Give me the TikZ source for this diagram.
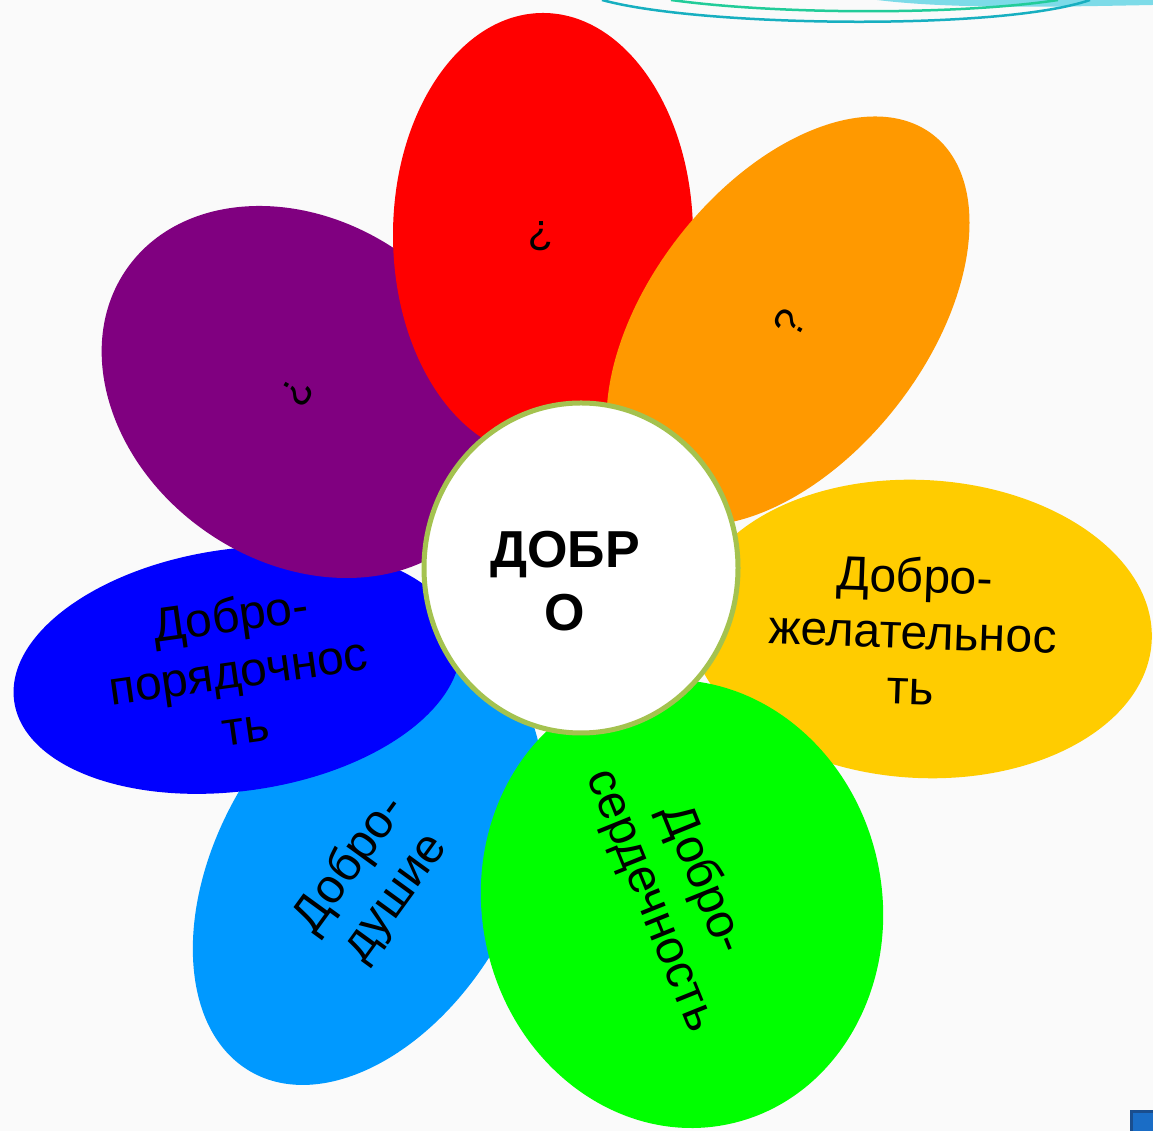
\documentclass[tikz,border=0pt]{standalone}
\usepackage{fontspec}
\setmainfont{Liberation Sans}
\definecolor{bg}{HTML}{FAFAFA}
\definecolor{pred}{HTML}{FF0000}
\definecolor{porange}{HTML}{FF9900}
\definecolor{pyellow}{HTML}{FFCC00}
\definecolor{pgreen}{HTML}{00FF00}
\definecolor{plblue}{HTML}{0099FF}
\definecolor{pblue}{HTML}{0000FF}
\definecolor{ppurple}{HTML}{800080}
\definecolor{ring}{HTML}{A4C24F}
\definecolor{decocyan}{HTML}{7DDBE8}
\definecolor{decoteal}{HTML}{17AFC0}
\definecolor{decogreen}{HTML}{22CC99}
\definecolor{sqfill}{HTML}{1A6DC6}
\definecolor{sqedge}{HTML}{1A4E8E}
\tikzset{
  petaltext/.style={align=center, text=black, inner sep=0pt, font=\fontsize{48}{56}\selectfont},
  qmark/.style={text=black, inner sep=0pt, font=\fontsize{42}{48}\selectfont},
  centertext/.style={align=center, text=black, inner sep=0pt, font=\fontsize{52}{63}\selectfont\bfseries}
}
\begin{document}
\begin{tikzpicture}[x=1pt,y=1pt]
\useasboundingbox (0,0) rectangle (1153,1131);
\fill[bg] (0,0) rectangle (1153,1131);
% decoration at top
\fill[decocyan] (877,1131) .. controls (950,1122) and (1050,1124) .. (1153,1126) -- (1153,1131) -- cycle;
\draw[decoteal, line width=2.5] (602,1131) .. controls (700,1104) and (1000,1100) .. (1090,1131);
\draw[decogreen, line width=2.5] (671,1131) .. controls (780,1116) and (960,1116) .. (1058,1131);
% petals
\fill[plblue, rotate around={60:(368,263)}] (368,263) ellipse [x radius=235, y radius=150];
\fill[pblue, rotate around={8:(237,461)}] (237,461) ellipse [x radius=225, y radius=121];
\fill[ppurple, rotate around={-35:(303,739)}] (303,739) ellipse [x radius=215, y radius=170];
\fill[pred] (543,896) ellipse [x radius=150, y radius=222];
\fill[porange, rotate around={52:(788,810)}] (788,810) ellipse [x radius=236, y radius=138];
\fill[pyellow, rotate around={-3:(921,502)}] (921,502) ellipse [x radius=231, y radius=149];
\fill[pgreen, rotate around={12:(682,227)}] (682,227) ellipse [x radius=200, y radius=225];
% center
\draw[ring, fill=white, line width=5] (581,563) ellipse [x radius=157, y radius=165];
\node[centertext] (center) at (565,550) {ДОБР\\О};
% texts
\node[qmark, rotate=180] (qred) at (541,895) {?};
\node[qmark, rotate=60] (qorange) at (790,808) {?};
\node[qmark, rotate=-120] (qpurple) at (297,739) {?};
\node[petaltext, rotate=-2] (tyellow) at (913,500) {Добро-\\желательнос\\ть};
\node[petaltext, rotate=8] (tblue) at (238,461) {Добро-\\порядочнос\\ть};
\node[petaltext, rotate=54] (tlblue) at (373,250) {Добро-\\душие};
\node[petaltext, rotate=-68] (tgreen) at (676,241) {Добро-\\сердечность};
% corner square
\filldraw[fill=sqfill, draw=sqedge, line width=3] (1131.5,-5) rectangle (1160,19.5);
\end{tikzpicture}
\end{document}
